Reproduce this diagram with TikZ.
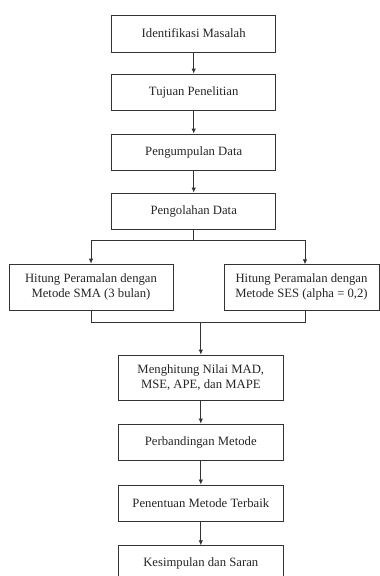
\documentclass[tikz,border=0pt]{standalone}
\usepackage{fontspec}
\setmainfont{Liberation Serif}
\usetikzlibrary{arrows.meta}
\begin{document}
\begin{tikzpicture}[x=1pt,y=-1pt,
  box/.style={draw=black!80,line width=0.8pt,rectangle,align=center,inner sep=0pt,
    font=\fontsize{12.7}{15}\selectfont,text=black!85},
  ln/.style={draw=black!80,line width=0.8pt},
  arr/.style={ln,-{Latex[length=5pt,width=4.5pt]}}]
\useasboundingbox (0,0) rectangle (380,576);
\clip (0,0) rectangle (380,576);
\fill[white] (0,0) rectangle (380,576);
\node[box,minimum width=164pt,minimum height=37pt] (b1) at (193.7,33.5) {Identifikasi Masalah};
\node[box,minimum width=164pt,minimum height=36pt] (b2) at (193.7,92) {Tujuan Penelitian};
\node[box,minimum width=164pt,minimum height=36pt] (b3) at (193.7,152) {Pengumpulan Data};
\node[box,minimum width=164pt,minimum height=36pt] (b4) at (193.7,211) {Pengolahan Data};
\node[box,minimum width=164pt,minimum height=46pt] (l) at (91,287) {Hitung Peramalan dengan\\Metode SMA (3 bulan)};
\node[box,minimum width=155pt,minimum height=46pt] (r) at (301.5,287) {Hitung Peramalan dengan\\Metode SES (alpha = 0,2)};
\node[box,minimum width=165pt,minimum height=45pt] (b5) at (200.8,377.5) {Menghitung Nilai MAD,\\MSE, APE, dan MAPE};
\node[box,minimum width=165pt,minimum height=36pt] (b6) at (200.8,442) {Perbandingan Metode};
\node[box,minimum width=165pt,minimum height=36.5pt] (b7) at (200.8,503.2) {Penentuan Metode Terbaik};
\node[box,minimum width=165pt,minimum height=36pt] (b8) at (200.8,563.7) {Kesimpulan dan Saran};
\draw[arr] (b1) -- (b2);
\draw[arr] (b2) -- (b3);
\draw[arr] (b3) -- (b4);
\coordinate (br) at (193.7,240.5);
\coordinate (rt) at (305,264.3);
\coordinate (rb) at (305,309.7);
\coordinate (mg) at (200.8,322.3);
\draw[ln] (b4.south) -- (br);
\draw[arr] (br) -| (l.north);
\draw[arr] (br) -| (rt);
\draw[ln] (l.south) |- (mg) -| (rb);
\draw[arr] (mg) -- (b5.north);
\draw[arr] (b5) -- (b6);
\draw[arr] (b6) -- (b7);
\draw[arr] (b7) -- (b8);
\end{tikzpicture}
\end{document}
